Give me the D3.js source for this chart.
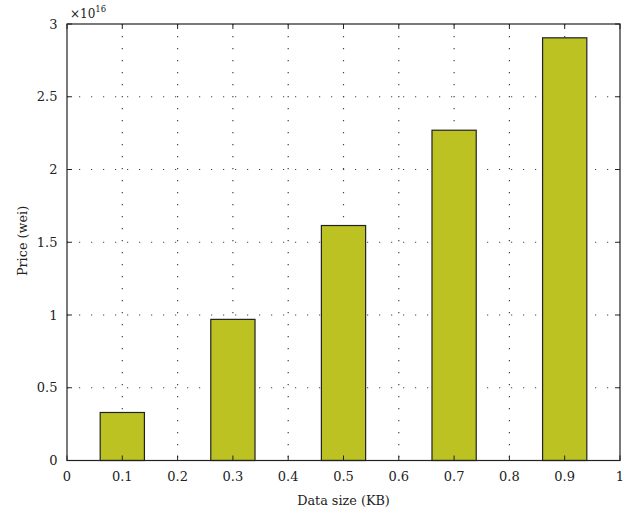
<!DOCTYPE html>
<html><head><meta charset="utf-8">
<script src="https://cdn.jsdelivr.net/npm/d3@7"></script>
<style>body{margin:0;background:#fff}svg{display:block}</style>
</head><body><svg id="c" width="633" height="510"></svg>
<script>
const categories = [0.1, 0.3, 0.5, 0.7, 0.9];
const prices = [0.33, 0.97, 1.615, 2.27, 2.905]; // ×10^16 wei
const xTicks = [0,0.1,0.2,0.3,0.4,0.5,0.6,0.7,0.8,0.9,1];
const yTicks = [0,0.5,1,1.5,2,2.5,3];
const xTickLabels = ["0","0.1","0.2","0.3","0.4","0.5","0.6","0.7","0.8","0.9","1"];
const yTickLabels = ["0","0.5","1","1.5","2","2.5","3"];

const svg = d3.select("#c");
const FF = "DejaVu Serif";
const L=67,R=620,T=24,B=460.5;
const x = d3.scaleLinear().domain([0,1]).range([L,R]);
const y = d3.scaleLinear().domain([0,3]).range([B,T]);
const barW = 0.08;

const g = svg.append("g");
g.selectAll(".vg").data(xTicks.slice(1,-1)).join("line")
  .attr("x1",d=>x(d)).attr("x2",d=>x(d)).attr("y1",T).attr("y2",B)
  .attr("stroke","#444").attr("stroke-width",1.2).attr("stroke-dasharray","1.2,10.8");
g.selectAll(".hg").data(yTicks.slice(1,-1)).join("line")
  .attr("y1",d=>y(d)).attr("y2",d=>y(d)).attr("x1",L).attr("x2",R)
  .attr("stroke","#444").attr("stroke-width",1.2).attr("stroke-dasharray","1.2,10.8");

svg.selectAll(".bar").data(categories).join("rect")
  .attr("x",d=>x(d-barW/2)).attr("width",d=>x(barW)-x(0))
  .attr("y",(d,i)=>y(prices[i])).attr("height",(d,i)=>y(0)-y(prices[i]))
  .attr("fill","#bbc222").attr("stroke","#222").attr("stroke-width",1.2);

svg.append("rect").attr("x",L).attr("y",T).attr("width",R-L).attr("height",B-T)
  .attr("fill","none").attr("stroke","#222").attr("stroke-width",1.2);

const tl=5;
const tk = svg.append("g").attr("stroke","#222").attr("stroke-width",1);
xTicks.forEach(d=>{
  tk.append("line").attr("x1",x(d)).attr("x2",x(d)).attr("y1",B).attr("y2",B-tl);
  tk.append("line").attr("x1",x(d)).attr("x2",x(d)).attr("y1",T).attr("y2",T+tl);
});
yTicks.forEach(d=>{
  tk.append("line").attr("y1",y(d)).attr("y2",y(d)).attr("x1",L).attr("x2",L+tl);
  tk.append("line").attr("y1",y(d)).attr("y2",y(d)).attr("x1",R).attr("x2",R-tl);
});

svg.selectAll(".xl").data(xTicks).join("text")
  .style("font-family",FF).attr("fill","#222")
  .attr("x",d=>x(d)).attr("y",481).attr("text-anchor","middle").attr("font-size",13)
  .text((d,i)=>xTickLabels[i]);
svg.selectAll(".yl").data(yTicks).join("text")
  .style("font-family",FF).attr("fill","#222")
  .attr("x",57.5).attr("y",d=>y(d)+4.5).attr("text-anchor","end").attr("font-size",13)
  .text((d,i)=>yTickLabels[i]);

svg.append("text").style("font-family",FF).attr("fill","#222").attr("x",(L+R)/2).attr("y",505).attr("text-anchor","middle").attr("font-size",12.8).text("Data size (KB)");
svg.append("text").style("font-family",FF).attr("fill","#222").attr("transform",`translate(27,241) rotate(-90)`).attr("text-anchor","middle").attr("font-size",12.8).text("Price (wei)");
const ex = svg.append("text").style("font-family",FF).attr("fill","#222").attr("x",70).attr("y",18).attr("font-size",12);
ex.append("tspan").text("×10");
ex.append("tspan").attr("dy",-6).attr("font-size",8.5).text("16");
</script></body></html>
